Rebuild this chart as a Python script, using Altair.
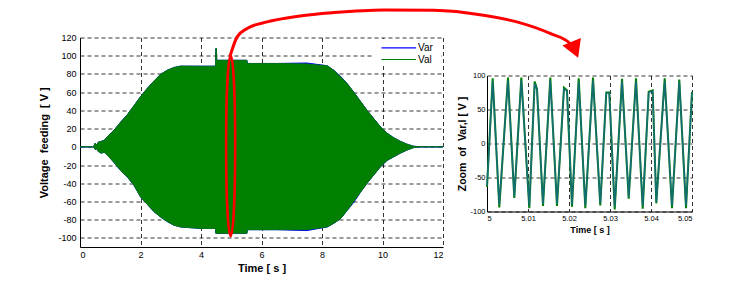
import altair as alt
import pandas as pd

# ---------------- data ----------------
# overview: envelope of the dense oscillating signals (time in s, voltage in V)
env_t = [0, 0.45, 0.5, 0.55, 0.6, 0.7, 0.8, 0.9, 1.12, 1.34, 1.56, 1.78, 2.0, 2.22, 2.44,
         2.66, 2.88, 3.1, 3.32, 4.0, 4.48, 4.49, 4.51, 4.52, 5.52, 5.53, 6.5, 7.5, 8.17,
         8.39, 8.61, 8.83, 9.05, 9.27, 9.49, 9.71, 9.93, 10.15, 10.37, 10.59, 10.8, 11.02,
         11.24, 12.0]
val_hi = [0, 0, 4, 2, 5, 6, 7, 11, 18, 27, 35, 45, 55, 64, 72, 79.5, 84, 87, 88.6, 88.5,
          88.5, 108, 108, 95, 95, 91.5, 91.5, 91, 89, 84, 77, 69.5, 60, 50, 40, 31, 22, 15,
          10, 6, 3, 0.7, 0, 0]
val_lo = [0, 0, -3, -2, -5, -7, -6, -9, -17, -26, -33, -42, -55, -63, -71, -77, -82, -86,
          -88, -89.7, -89.7, -95, -95, -95, -95, -91, -91, -91, -88, -84, -79, -70, -60, -50,
          -40, -31, -22, -15, -11, -7, -3.7, -1, 0, 0]
var_hi = [0, 0, 4, 2, 5, 6, 7, 11, 18, 27, 35, 45, 55, 64, 72, 79.5, 84, 87, 88.6, 88.5,
          88.5, 108, 108, 95, 95, 91.5, 91.5, 92, 89, 84, 77.5, 69.5, 60, 50, 40, 31, 22, 15,
          10, 6, 3, 0.7, 0, 0]
var_lo = [0, 0, -3, -2, -5, -7, -6, -9, -17, -26, -33, -42, -55, -63, -71, -77, -82, -86,
          -88, -89.7, -89.7, -95, -95, -95, -95, -91, -91, -92, -88, -84, -79, -70, -61, -50,
          -40, -31, -22, -15, -11, -7, -3.7, -1, 0, 0]

# zoom window 5 .. 5.05 s
zoom_t = [5.0, 5.00139, 5.0030, 5.00512, 5.00666, 5.00837, 5.01032, 5.01163, 5.0122,
          5.01366, 5.01544, 5.01707, 5.01878, 5.01951, 5.02073, 5.02237, 5.02398, 5.02585,
          5.02763, 5.0291, 5.02983, 5.03115, 5.03293, 5.03456, 5.03634, 5.03798, 5.03944,
          5.04041, 5.04129, 5.04334, 5.04512, 5.0469, 5.04854, 5.05]
val_z = [-64, 96, -94, 97, -80, 97, -95, 91, 80, -92, 97, -92, 82, 78, -93, 96, -95, 97,
         -91, 75, 75, -97, 95, -81, 96, -96, 76, 78, -88, 96, -95, 94, -95, 76]
var_z = [-62, 92, -90, 93, -78, 93, -92, 88, 79, -89, 93, -89, 80, 77, -90, 92, -92, 93,
         -88, 74, 74, -93, 92, -79, 92, -92, 75, 77, -86, 92, -92, 91, -92, 75]

series_names = ["Var", "Val"]
series_colors = ["#0000FF", "#007F00"]

main_x_ticks = [0, 2, 4, 6, 8, 10, 12]
main_y_ticks = [-100, -80, -60, -40, -20, 0, 20, 40, 60, 80, 100, 120]
zoom_x_ticks = [5, 5.01, 5.02, 5.03, 5.04, 5.05]
zoom_y_ticks = [-100, -50, 0, 50, 100]

# annotation arrow path, in the overview's data units (runs beyond its frame)
arrow_t = [4.96, 5.195, 5.525, 6.186, 7.275, 8.388, 10.04, 11.69, 13.34, 14.44, 15.54, 16.2, 16.29]
arrow_v = [99.5, 120.7, 129.9, 137.1, 143.7, 147.4, 150.3, 150.0, 144.5, 137.1, 124.4, 113.4, 109.4]

# ---------------- frames ----------------
env = pd.DataFrame({"t": env_t, "val_hi": val_hi, "val_lo": val_lo,
                    "var_hi": var_hi, "var_lo": var_lo})
zoom = pd.DataFrame({"t": zoom_t, "val": val_z, "var": var_z})
arrow = pd.DataFrame({"t": arrow_t, "v": arrow_v})
one = pd.DataFrame({"a": [0]})

FONT = "Liberation Sans"

mx_scale = alt.Scale(domain=[0, 12], nice=False, zero=False)
my_scale = alt.Scale(domain=[-110, 120], nice=False, zero=False)


def MX(field):
    return alt.X(field, type="quantitative", scale=mx_scale,
                 axis=alt.Axis(values=main_x_ticks, tickCount=20, title="Time [ s ]",
                               labelExpr="'' + datum.value",
                               labelOverlap=False, labelFontSize=9, titleFontSize=11,
                               labelPadding=3, titlePadding=3))


def MY(field):
    return alt.Y(field, type="quantitative", scale=my_scale,
                 axis=alt.Axis(values=main_y_ticks, tickCount=20,
                               title="Voltage\u00a0 feeding\u00a0 [ V ]",
                               labelExpr="'' + datum.value", labelOverlap=False,
                               labelFontSize=9, titleFontSize=11,
                               labelPadding=4, titlePadding=8))


legend_box = alt.Chart(one).mark_rect(color="white").encode(
    x=alt.datum(9.72), x2=alt.datum(11.93), y=alt.datum(118.3), y2=alt.datum(91.8))

var_area = alt.Chart(env).mark_area(color=series_colors[0], stroke=series_colors[0],
                                    strokeWidth=1).encode(x=MX("t"), y=MY("var_hi"), y2="var_lo")
val_area = alt.Chart(env).mark_area(color=series_colors[1], stroke=series_colors[1],
                                    strokeWidth=0.8).encode(x=MX("t"), y=MY("val_hi"), y2="val_lo")

# hand-drawn legend (pixel offsets inside the overview panel)
legend_layers = []
for name, col, py in zip(series_names, series_colors, [10.4, 22.0]):
    legend_layers.append(alt.Chart(one).mark_rule(color=col, strokeWidth=1.2).encode(
        x=alt.value(301.5), x2=alt.value(336.0), y=alt.value(py)))
    legend_layers.append(alt.Chart(one).mark_text(text=name, align="left", baseline="middle",
                                                  font=FONT, fontSize=10, color="black").encode(
        x=alt.value(338.0), y=alt.value(py)))

ellipse = alt.Chart(one).mark_point(
    shape="M0,-1A0.05,1,0,1,1,0,1A0.05,1,0,1,1,0,-1Z", size=32761, filled=False,
    stroke="#FF0000", strokeWidth=2.5, opacity=1, clip=False).encode(
    x=alt.datum(4.98), y=alt.datum(1.2))

arrow_line = alt.Chart(arrow).mark_line(color="#FF0000", strokeWidth=3, interpolate="monotone",
                                        clip=False).encode(x=MX("t"), y=MY("v"))
arrow_head = alt.Chart(one).mark_point(shape="triangle-down", size=400, filled=True,
                                       color="#FF0000", opacity=1, angle=338, clip=False).encode(
    x=alt.datum(16.36), y=alt.datum(106.6))

main = alt.layer(legend_box, var_area, val_area, *legend_layers, ellipse, arrow_line,
                 arrow_head).properties(width=363, height=209.5)

zx_scale = alt.Scale(domain=[5, 5.05], nice=False, zero=False)
zy_scale = alt.Scale(domain=[-100, 100], nice=False, zero=False)


def ZX(field):
    return alt.X(field, type="quantitative", scale=zx_scale,
                 axis=alt.Axis(values=zoom_x_ticks, tickCount=20, title="Time [ s ]",
                               labelExpr="'' + datum.value",
                               labelOverlap=False, labelFontSize=7.5, titleFontSize=9,
                               labelPadding=3, titlePadding=3))


def ZY(field):
    return alt.Y(field, type="quantitative", scale=zy_scale,
                 axis=alt.Axis(values=zoom_y_ticks, tickCount=20,
                               title="Zoom\u00a0 of\u00a0 Var,l [ V ]",
                               labelExpr="'' + datum.value", labelOverlap=False,
                               labelFontSize=7.5, titleFontSize=10.5,
                               labelPadding=2, titlePadding=2))


zoom_val = alt.Chart(zoom).mark_line(color=series_colors[1], strokeWidth=2).encode(
    x=ZX("t"), y=ZY("val"))
zoom_var = alt.Chart(zoom).mark_line(color="#2060C0", strokeWidth=1.6, opacity=0.6).encode(
    x=ZX("t"), y=ZY("var"))
zoom_chart = alt.layer(zoom_val, zoom_var).properties(width=205, height=136)

spacer = alt.Chart(one).mark_point(opacity=0).encode(
    x=alt.value(0), y=alt.value(0)).properties(width=205, height=37.7)

right = alt.vconcat(spacer, zoom_chart, spacing=0, bounds="flush")

chart = alt.hconcat(main, right, spacing=44, bounds="flush").properties(
    padding={"left": 30, "top": -4.5, "right": 5, "bottom": 5},
    background="white",
).configure_view(stroke=None).configure_axis(
    labelFont=FONT, titleFont=FONT, labelColor="black", titleColor="black",
    labelFontWeight="normal", titleFontWeight="bold",
    domainColor="black", domainWidth=1, ticks=False,
    grid=True, gridColor="#111", gridDash=[4, 3], gridWidth=1, gridOpacity=0.85,
)

chart.save("out.html", embed_options={"renderer": "svg", "actions": False})
